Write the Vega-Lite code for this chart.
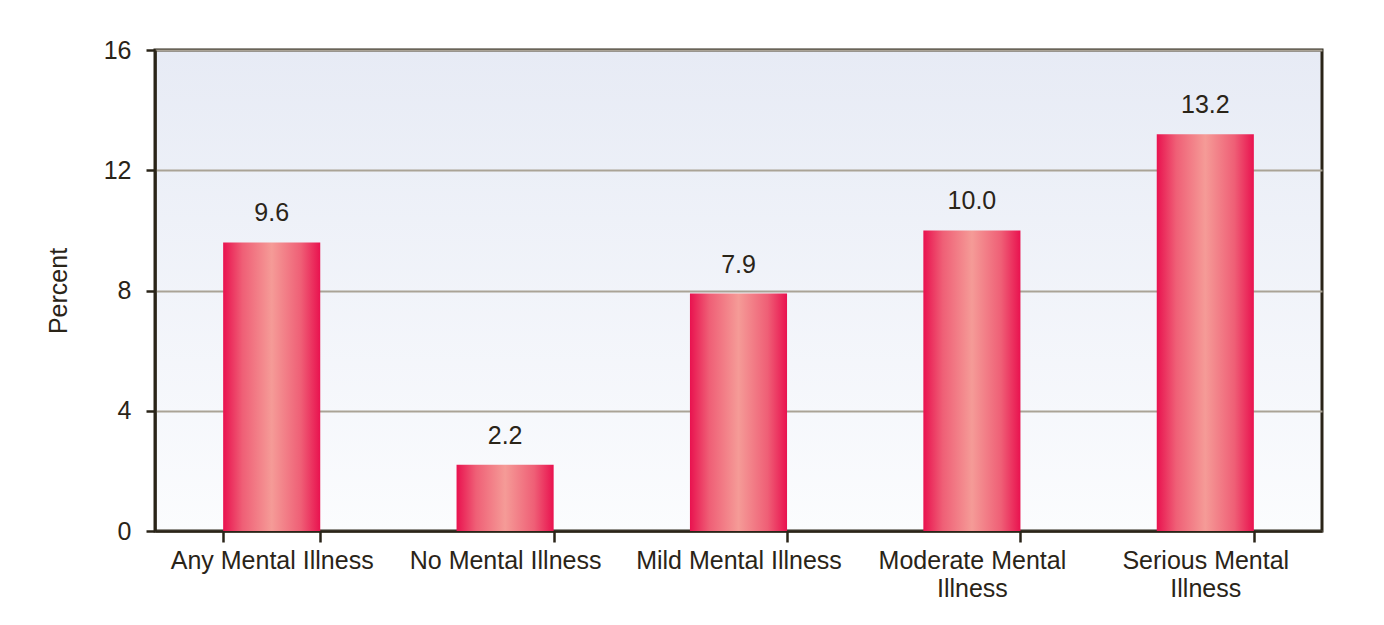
{
  "$schema": "https://vega.github.io/schema/vega-lite/v6.json",
  "autosize": {"type": "none"},
  "padding": {"left": 155, "top": 50, "right": 62, "bottom": 94},
  "width": 1167,
  "height": 481,
  "background": "white",
  "data": {
    "values": [
      {"category": "Any Mental Illness", "percent": 9.6},
      {"category": "No Mental Illness", "percent": 2.2},
      {"category": "Mild Mental Illness", "percent": 7.9},
      {"category": "Moderate Mental Illness", "percent": 10.0},
      {"category": "Serious Mental Illness", "percent": 13.2}
    ]
  },
  "encoding": {
    "x": {
      "field": "category",
      "type": "nominal",
      "sort": null,
      "scale": {"paddingInner": 0.584, "paddingOuter": 0.292},
      "axis": {
        "title": null,
        "labelAngle": 0,
        "labelFont": "Liberation Sans",
        "labelFontSize": 25,
        "labelColor": "#2a2418",
        "labelPadding": 6,
        "labelLineHeight": 28,
        "labelLimit": 400,
        "labelExpr": "datum.label == 'Moderate Mental Illness' ? ['Moderate Mental', 'Illness'] : datum.label == 'Serious Mental Illness' ? ['Serious Mental', 'Illness'] : datum.label",
        "tickBand": "extent",
        "tickSize": 11,
        "tickWidth": 2.5,
        "tickColor": "#2a2418",
        "domainColor": "#2a2418",
        "domainWidth": 2.5,
        "grid": false
      }
    },
    "y": {
      "field": "percent",
      "type": "quantitative",
      "scale": {"domain": [0, 16], "nice": false},
      "axis": {
        "title": "Percent",
        "titleFont": "Liberation Sans",
        "titleFontSize": 25,
        "titleFontWeight": "normal",
        "titleColor": "#2a2418",
        "titlePadding": 32,
        "values": [0, 4, 8, 12, 16],
        "labelFont": "Liberation Sans",
        "labelFontSize": 25,
        "labelColor": "#2a2418",
        "labelPadding": 15,
        "tickSize": 9,
        "tickWidth": 2.5,
        "tickColor": "#2a2418",
        "domainColor": "#2a2418",
        "domainWidth": 2.5,
        "grid": true,
        "gridColor": "#aaa396",
        "gridWidth": 2
      }
    }
  },
  "layer": [
    {
      "mark": {
        "type": "bar",
        "fill": {"gradient": "linear", "x1": 0, "y1": 0, "x2": 1, "y2": 0, "stops": [
          {"offset": 0, "color": "#e9124f"},
          {"offset": 0.2, "color": "#ef5f76"},
          {"offset": 0.5, "color": "#f59b97"},
          {"offset": 0.8, "color": "#ef5f76"},
          {"offset": 1, "color": "#e9124f"}
        ]}
      }
    },
    {
      "mark": {"type": "text", "baseline": "alphabetic", "dy": -21, "font": "Liberation Sans", "fontSize": 25, "color": "#2a2418"},
      "encoding": {"text": {"field": "percent", "type": "quantitative", "format": ".1f"}}
    }
  ],
  "config": {
    "axis": {"zindex": 0},
    "view": {
      "fill": {"gradient": "linear", "x1": 0, "y1": 0, "x2": 0, "y2": 1, "stops": [{"offset": 0, "color": "#e7ebf5"}, {"offset": 1, "color": "#fbfcfe"}]},
      "stroke": "#2a2418",
      "strokeWidth": 3
    }
  }
}
